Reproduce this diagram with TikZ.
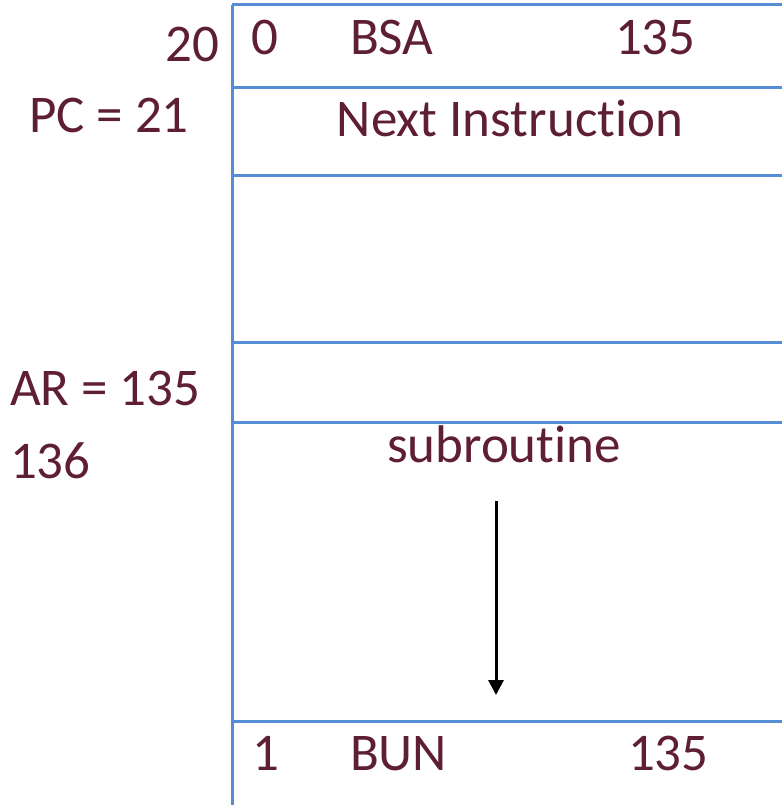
\documentclass[tikz,border=0pt]{standalone}
\usepackage{fontspec}
\setmainfont[Ligatures={NoCommon}]{Carlito}
\usetikzlibrary{arrows.meta}
\definecolor{txt}{RGB}{94,30,52}
\definecolor{memblue}{RGB}{85,142,213}
\tikzset{
  lbl/.style={inner sep=0pt, outer sep=0pt, text=txt, font=\fontsize{53}{60}\selectfont},
  memline/.style={draw=memblue, line width=3pt},
  flow/.style={draw=black, line width=3pt, -{Triangle[width=15pt,length=15pt]}}
}
\begin{document}
\begin{tikzpicture}[x=1pt,y=-1pt]
\useasboundingbox (0,0) rectangle (782,805);
% memory grid
\coordinate (tl) at (232,5);
\coordinate (bl) at (232,805);
\draw[memline] (tl) -- (bl);
\foreach \yy/\nm in {5/h0,88/h1,176/h2,342/h3,422/h4,721/h5}{
  \coordinate (\nm L) at (232,\yy);
  \coordinate (\nm R) at (782,\yy);
  \draw[memline] (\nm L) -- (\nm R);
}
% left labels
\node[lbl, anchor=base east] (a20) at (219,62) {20};
\node[lbl, anchor=base west] (pc) at (29,133) {PC = 21};
\node[lbl, anchor=base west] (ar) at (10,405) {AR = 135};
\node[lbl, anchor=base west] (a136) at (10,478) {136};
% cell contents
\node[lbl, anchor=base west] (i0) at (251,55) {0};
\node[lbl, anchor=base west] (bsa) at (350,55) {BSA};
\node[lbl, anchor=base west] (adr1) at (615,55) {135};
\node[lbl, anchor=base] (next) at (510,137) {Next Instruction};
\node[lbl, anchor=base] (sub) at (504,462) {subroutine};
\node[lbl, anchor=base west] (i1) at (252,770) {1};
\node[lbl, anchor=base west] (bun) at (350,770) {BUN};
\node[lbl, anchor=base west] (adr2) at (628,770) {135};
% flow arrow
\coordinate (fs) at (496,501);
\coordinate (fe) at (496,695);
\draw[flow] (fs) -- (fe);
\end{tikzpicture}
\end{document}
